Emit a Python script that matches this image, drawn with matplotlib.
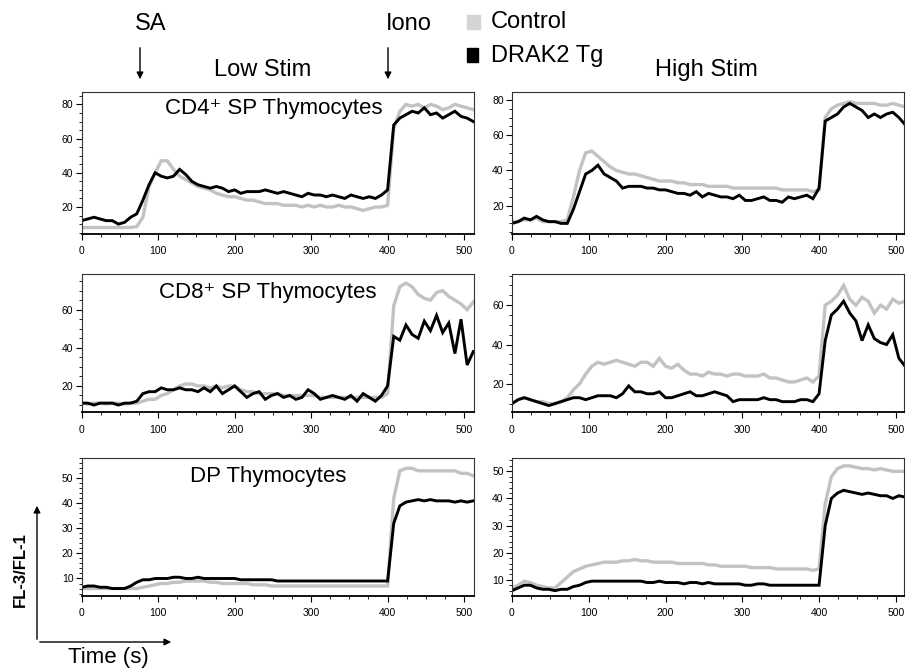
import matplotlib
matplotlib.use("Agg")
import matplotlib.pyplot as plt
from matplotlib.ticker import MultipleLocator

plt.rcParams['font.family'] = ['Liberation Sans', 'DejaVu Sans']

# time grid (s), one reading every 8 s
TIME = list(range(0, 513, 8))

# CD4+ SP, low stim
cd4_low_ctrl = [8, 8, 8, 8, 8, 8, 8, 8, 8, 8.5, 14, 32, 40, 47, 47, 42, 38, 36, 34, 32, 31, 30, 28, 27, 26, 26, 25, 24, 24, 23, 22, 22, 22, 21, 21, 21, 20, 21, 20, 21, 20, 20, 21, 20, 20, 19, 18, 19, 20, 20, 21, 66, 76, 80, 79, 80, 78, 80, 79, 77, 78, 80, 79, 78, 77]
cd4_low_tg = [12, 13, 14, 13, 12, 12, 10, 11, 14, 16, 24, 33, 40, 38, 37, 38, 42, 39, 35, 33, 32, 31, 32, 31, 29, 30, 28, 29, 29, 29, 30, 29, 28, 29, 28, 27, 26, 28, 27, 27, 26, 27, 26, 25, 27, 26, 25, 26, 25, 27, 30, 68, 72, 74, 76, 75, 78, 74, 75, 72, 74, 76, 73, 72, 70]

# CD4+ SP, high stim
cd4_high_ctrl = [11, 11, 12, 12, 13, 11, 11, 11, 11, 12, 25, 40, 50, 51, 48, 45, 42, 40, 39, 38, 38, 37, 36, 35, 34, 34, 34, 33, 33, 32, 32, 32, 31, 31, 31, 31, 30, 30, 30, 30, 30, 30, 30, 30, 29, 29, 29, 29, 29, 28, 29, 70, 75, 77, 78, 79, 78, 78, 78, 78, 77, 77, 78, 77, 76]
cd4_high_tg = [10, 11, 13, 12, 14, 12, 11, 11, 10, 10, 18, 28, 38, 40, 43, 38, 36, 34, 30, 31, 31, 31, 30, 30, 29, 29, 28, 27, 27, 26, 28, 25, 27, 26, 25, 25, 24, 26, 23, 23, 24, 25, 23, 23, 22, 25, 24, 25, 26, 24, 30, 68, 70, 72, 76, 78, 76, 74, 70, 72, 70, 72, 73, 70, 66]

# CD8+ SP, low stim
cd8_low_ctrl = [11, 10.5, 11, 11, 10.5, 11, 11, 10.5, 11, 11, 12, 13, 13, 15, 16, 18, 20, 21, 21, 20, 20, 19, 20, 19, 20, 20, 18, 17, 17, 16, 16, 16, 16, 15, 15, 15, 15, 15, 15, 14, 14, 14, 14, 14, 14, 14, 14, 14, 14, 14, 16, 62, 72, 74, 72, 68, 66, 65, 69, 70, 67, 65, 63, 60, 64]
cd8_low_tg = [11, 11, 10, 11, 11, 11, 10, 11, 11, 12, 16, 17, 17, 19, 18, 18, 19, 18, 18, 17, 19, 17, 20, 16, 18, 20, 17, 14, 16, 17, 13, 15, 16, 14, 15, 13, 14, 18, 16, 13, 14, 15, 14, 13, 15, 12, 16, 14, 12, 15, 20, 46, 44, 52, 47, 45, 54, 49, 57, 48, 53, 37, 55, 31, 38]

# CD8+ SP, high stim
cd8_high_ctrl = [10, 12, 13, 12, 11, 11, 10, 10, 11, 13, 17, 20, 25, 29, 31, 30, 31, 32, 31, 30, 29, 31, 31, 29, 33, 29, 28, 30, 27, 25, 25, 24, 26, 25, 25, 24, 25, 25, 24, 24, 24, 25, 23, 23, 22, 21, 21, 22, 23, 21, 24, 60, 62, 65, 70, 63, 60, 64, 62, 56, 60, 58, 63, 61, 62]
cd8_high_tg = [10, 12, 13, 12, 11, 10, 9, 10, 11, 12, 13, 13, 12, 13, 14, 14, 14, 13, 15, 19, 16, 16, 15, 15, 16, 13, 13, 14, 15, 16, 14, 14, 15, 16, 15, 14, 11, 12, 12, 12, 12, 13, 12, 12, 11, 11, 11, 12, 12, 11, 15, 42, 55, 58, 62, 56, 52, 42, 50, 43, 41, 40, 45, 33, 29]

# DP, low stim
dp_low_ctrl = [6, 6, 6, 6, 6, 6, 6, 6, 6, 6, 6.5, 7, 7.5, 8, 8, 8.5, 8.5, 9, 9, 9, 9, 8.5, 8.5, 8, 8, 8, 8, 8, 7.5, 7.5, 7.5, 7, 7, 7, 7, 7, 7, 7, 7, 7, 7, 7, 7, 7, 7, 7, 7, 7, 7, 7, 7, 42, 53, 54, 54, 53, 53, 53, 53, 53, 53, 53, 52, 52, 51]
dp_low_tg = [6.5, 7, 7, 6.5, 6.5, 6, 6, 6, 7, 8.5, 9.5, 9.5, 10, 10, 10, 10.5, 10.5, 10, 10, 10.5, 10, 10, 10, 10, 10, 10, 9.5, 9.5, 9.5, 9.5, 9.5, 9.5, 9, 9, 9, 9, 9, 9, 9, 9, 9, 9, 9, 9, 9, 9, 9, 9, 9, 9, 9, 32, 39, 40.5, 41, 41.5, 41, 41.5, 41, 41, 41, 40.5, 41, 40.5, 41]

# DP, high stim
dp_high_ctrl = [7, 8, 9.5, 9, 8, 7.5, 7, 7, 9, 11, 13, 14, 15, 15.5, 16, 16.5, 16.5, 16.5, 17, 17, 17.5, 17, 17, 16.5, 16.5, 16.5, 16.5, 16, 16, 16, 16, 16, 15.5, 15.5, 15, 15, 15, 15, 15, 14.5, 14.5, 14.5, 14.5, 14, 14, 14, 14, 14, 14, 13.5, 14, 38, 48, 51, 52, 52, 51.5, 51, 51, 50.5, 51, 50.5, 50, 50, 50]
dp_high_tg = [6, 7, 8, 8, 7, 6.5, 6.5, 6, 6.5, 6.5, 7.5, 8, 9, 9.5, 9.5, 9.5, 9.5, 9.5, 9.5, 9.5, 9.5, 9.5, 9, 9, 9.5, 9, 9, 9, 8.5, 9, 9, 8.5, 9, 8.5, 8.5, 8.5, 8.5, 8.5, 8, 8, 8.5, 8.5, 8, 8, 8, 8, 8, 8, 8, 8, 8, 30, 40, 42, 43, 42.5, 42, 41.5, 42, 41.5, 41, 41, 40, 41, 40.5]

panels = [
    # (ctrl, tg, ylim, major, minor, title)
    (cd4_low_ctrl, cd4_low_tg, (4.2, 87), 20, 5, "CD4\u207a SP Thymocytes"),
    (cd4_high_ctrl, cd4_high_tg, (4, 84.2), 20, 5, None),
    (cd8_low_ctrl, cd8_low_tg, (6.2, 78.5), 20, 5, "CD8\u207a SP Thymocytes"),
    (cd8_high_ctrl, cd8_high_tg, (5.6, 75.6), 20, 5, None),
    (dp_low_ctrl, dp_low_tg, (3.2, 58), 10, 2, "DP Thymocytes"),
    (dp_high_ctrl, dp_high_tg, (4.2, 54.8), 10, 2, None),
]

GREY = "#c2c2c2"

fig = plt.figure(figsize=(9.06, 6.72), dpi=100)

col_left = [0.0902, 0.5651]
col_w = 0.433
rows = [(0.6518, 0.2106), (0.3865, 0.2051), (0.1138, 0.2042)]
title_pos = [(0.489, 0.89), (0.474, 0.866), (0.476, 0.864)]

for i, (ctrl, tg, ylim, major, minor, title) in enumerate(panels):
    r, c = divmod(i, 2)
    ax = fig.add_axes([col_left[c], rows[r][0], col_w, rows[r][1]])
    ax.plot(TIME, ctrl, color=GREY, lw=2.4, solid_joinstyle='miter')
    ax.plot(TIME, tg, color="black", lw=2.1, solid_joinstyle='miter')
    ax.set_xlim(0, 513 if c == 0 else 511)
    ax.set_ylim(*ylim)
    ax.xaxis.set_major_locator(MultipleLocator(100))
    ax.xaxis.set_minor_locator(MultipleLocator(25))
    ax.yaxis.set_major_locator(MultipleLocator(major))
    ax.yaxis.set_minor_locator(MultipleLocator(minor))
    ax.tick_params(which='major', direction='out', length=4, width=0.8, labelsize=7.5, pad=2)
    ax.tick_params(which='minor', direction='out', length=2, width=0.6)
    ax.tick_params(axis='x', pad=5)
    for s in ['top', 'right', 'left']:
        ax.spines[s].set_linewidth(0.8)
        ax.spines[s].set_color('#333333')
    ax.spines['bottom'].set_linewidth(1.3)
    if title:
        ax.text(title_pos[r][0], title_pos[r][1], title, transform=ax.transAxes,
                ha='center', va='center', fontsize=16)

# stimulus markers and headers
fig.text(151 / 906, 1 - 24 / 672, "SA", ha='center', va='center', fontsize=17)
fig.text(409 / 906, 1 - 24 / 672, "Iono", ha='center', va='center', fontsize=17)
for x in [140, 388]:
    fig.add_artist(matplotlib.patches.FancyArrowPatch(
        (x / 906, 1 - 45 / 672), (x / 906, 1 - 82 / 672), transform=fig.transFigure,
        arrowstyle='-|>', mutation_scale=10, lw=1, color='black'))
fig.text(263 / 906, 1 - 70 / 672, "Low Stim", ha='center', va='center', fontsize=17)
fig.text(706 / 906, 1 - 70 / 672, "High Stim", ha='center', va='center', fontsize=17)

# legend
fig.add_artist(matplotlib.patches.Rectangle((467 / 906, 1 - 29 / 672), 13 / 906, 14 / 672,
                                            transform=fig.transFigure, color='#d4d4d4'))
fig.add_artist(matplotlib.patches.Rectangle((467 / 906, 1 - 62 / 672), 11 / 906, 14 / 672,
                                            transform=fig.transFigure, color='black'))
fig.text(491 / 906, 1 - 22 / 672, "Control", ha='left', va='center', fontsize=17)
fig.text(491 / 906, 1 - 56 / 672, "DRAK2 Tg", ha='left', va='center', fontsize=17)

# axis cue arrows
fig.add_artist(matplotlib.patches.FancyArrowPatch(
    (37 / 906, 1 - 642 / 672), (37 / 906, 1 - 503 / 672), transform=fig.transFigure,
    arrowstyle='-|>', mutation_scale=10, lw=1, color='black'))
fig.add_artist(matplotlib.patches.FancyArrowPatch(
    (37 / 906, 1 - 642 / 672), (174 / 906, 1 - 642 / 672), transform=fig.transFigure,
    arrowstyle='-|>', mutation_scale=10, lw=1, color='black'))
fig.text(20 / 906, 1 - 570 / 672, "FL-3/FL-1", rotation=90, ha='center', va='center',
         fontsize=12, fontweight='bold')
fig.text(108 / 906, 1 - 658 / 672, "Time (s)", ha='center', va='center', fontsize=16)

fig.savefig("out.png", dpi=100)
